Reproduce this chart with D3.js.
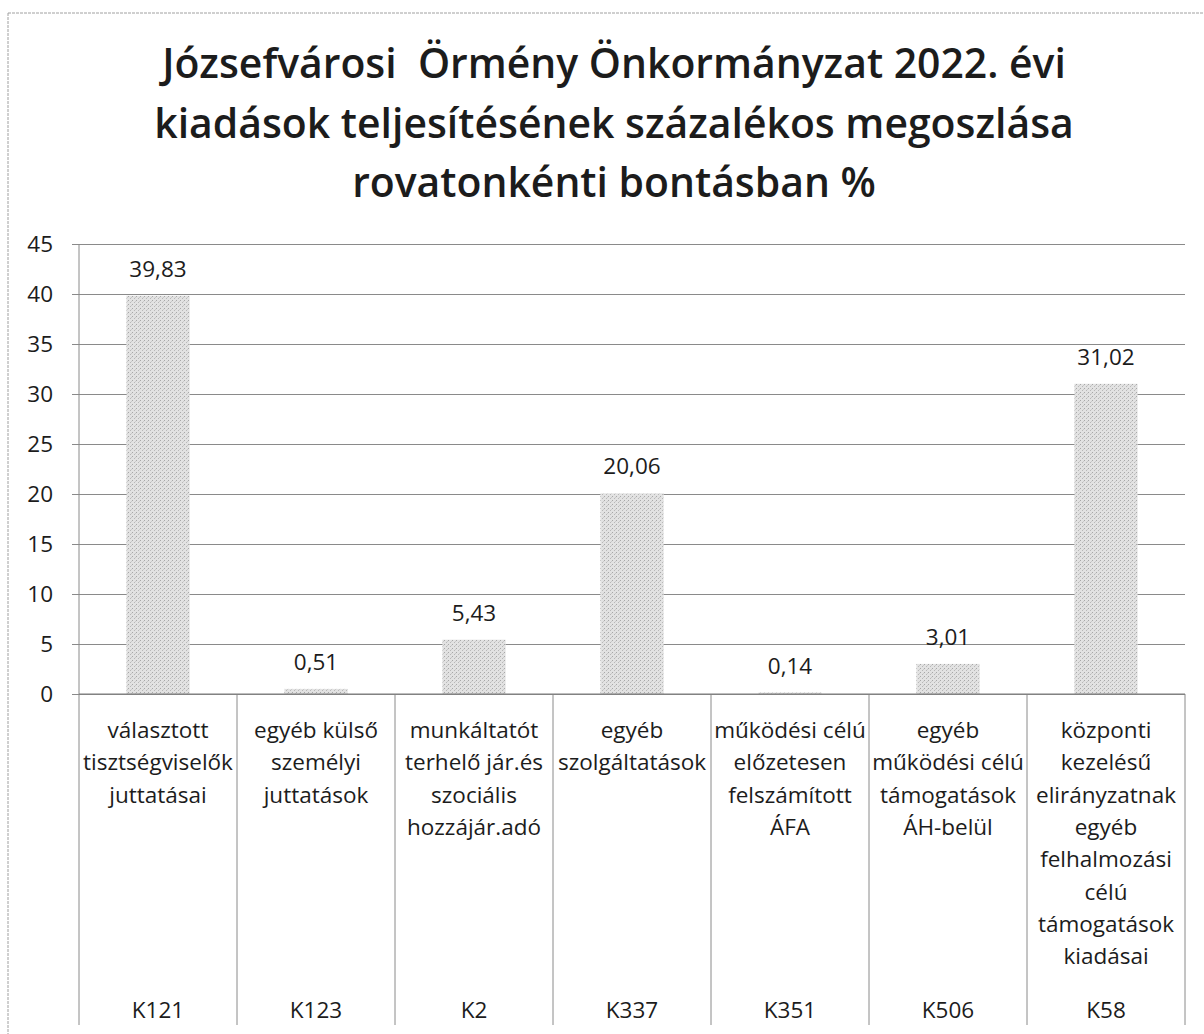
<!DOCTYPE html>
<html>
<head>
<meta charset="utf-8">
<script src="https://cdn.jsdelivr.net/npm/d3@7"></script>
<style>
  body { margin: 0; background: #fff; }
  text { font-family: "Open Sans", Lato, sans-serif; fill: #1c1c1c; }
</style>
</head>
<body>
<script>
// chart data
const codes = ["K121", "K123", "K2", "K337", "K351", "K506", "K58"];
const labels = [
  ["választott", "tisztségviselők", "juttatásai"],
  ["egyéb külső", "személyi", "juttatások"],
  ["munkáltatót", "terhelő jár.és", "szociális", "hozzájár.adó"],
  ["egyéb", "szolgáltatások"],
  ["működési célú", "előzetesen", "felszámított", "ÁFA"],
  ["egyéb", "működési célú", "támogatások", "ÁH-belül"],
  ["központi", "kezelésű", "elirányzatnak", "egyéb", "felhalmozási", "célú", "támogatások", "kiadásai"]
];
const values = [39.83, 0.51, 5.43, 20.06, 0.14, 3.01, 31.02];
const yTicks = [0, 5, 10, 15, 20, 25, 30, 35, 40, 45];
const titleLines = [
  "Józsefvárosi  Örmény Önkormányzat 2022. évi",
  "kiadások teljesítésének százalékos megoszlása",
  "rovatonkénti bontásban %"
];

var show_chart = () => {
  const W = 1204, H = 1034;
  const left = 79, right = 1185, top = 244, bottom = 694, catBottom = 1025;
  const fs = "22.5px";

  const svg = d3.select("body").append("svg")
    .attr("width", W).attr("height", H);

  // bar stipple pattern
  const pat = svg.append("defs").append("pattern")
    .attr("id", "stipple").attr("width", 4).attr("height", 4)
    .attr("patternUnits", "userSpaceOnUse");
  pat.append("rect").attr("width", 4).attr("height", 4).attr("fill", "#e2e2e2");
  pat.append("rect").attr("x", 0).attr("y", 0).attr("width", 1).attr("height", 1).attr("fill", "#a8a8a8");
  pat.append("rect").attr("x", 2).attr("y", 2).attr("width", 1).attr("height", 1).attr("fill", "#b8b8b8");
  pat.append("rect").attr("x", 3).attr("y", 1).attr("width", 1).attr("height", 1).attr("fill", "#cacaca");

  // outer chart border (top + left visible)
  svg.append("line").attr("x1", 8).attr("x2", W).attr("y1", 13).attr("y2", 13)
    .attr("stroke", "#a0a0a0").attr("stroke-dasharray", "3,1");
  svg.append("line").attr("x1", 8).attr("x2", 8).attr("y1", 13).attr("y2", H)
    .attr("stroke", "#a0a0a0").attr("stroke-dasharray", "3,1");

  // title
  const title = svg.append("text")
    .attr("x", 614)
    .attr("text-anchor", "middle")
    .style("font-weight", 600)
    .style("font-size", "38px")
    .style("white-space", "pre");
  const tsp = title.selectAll("tspan")
    .data(titleLines)
    .join("tspan")
      .attr("x", 614)
      .attr("y", (d, i) => 78 + i * 59.5)
      .text(d => d);
  // fit second line to the width seen in the picture
  const w2 = tsp.nodes()[1].getComputedTextLength();
  title.style("font-size", (38 * 920 / w2) + "px");

  // scales
  const xCat = d3.scaleBand().domain(codes).range([left, right]);
  const x = d3.scaleBand().domain(codes).range([left, right])
    .paddingInner(0.6).paddingOuter(0.3);
  const y = d3.scaleLinear().domain([0, 45]).range([bottom, top]);

  // gridlines + y labels
  const yAxis = svg.append("g")
    .attr("transform", `translate(${left},0)`)
    .call(d3.axisLeft(y).tickValues(yTicks).tickSize(-(right - left)).tickPadding(26).tickFormat(d3.format("d")));
  yAxis.select(".domain").remove();
  yAxis.selectAll(".tick line")
    .attr("x1", -7)
    .attr("stroke", "#8a8a8a");
  yAxis.selectAll(".tick text")
    .style("font-size", fs)
    .attr("fill", "#1c1c1c");

  // bars
  svg.append("g").selectAll("rect")
    .data(values)
    .join("rect")
      .attr("x", (d, i) => x(codes[i]))
      .attr("y", d => y(d))
      .attr("width", x.bandwidth())
      .attr("height", d => y(0) - y(d))
      .attr("fill", "url(#stipple)");

  // value labels
  const fmt = d3.formatLocale({decimal: ",", thousands: " ", grouping: [3], currency: ["", ""]}).format(".2f");
  svg.append("g").selectAll("text")
    .data(values)
    .join("text")
      .attr("x", (d, i) => x(codes[i]) + x.bandwidth() / 2)
      .attr("y", d => y(d) - 19)
      .attr("text-anchor", "middle")
      .style("font-size", fs)
      .text(d => fmt(d));

  // vertical axis line and category dividers
  svg.append("line")
    .attr("x1", left).attr("x2", left).attr("y1", top).attr("y2", catBottom)
    .attr("stroke", "#8a8a8a");
  svg.append("g").selectAll("line")
    .data(codes)
    .join("line")
      .attr("x1", d => xCat(d) + xCat.bandwidth())
      .attr("x2", d => xCat(d) + xCat.bandwidth())
      .attr("y1", bottom).attr("y2", catBottom)
      .attr("stroke", "#8a8a8a");
  svg.append("line")
    .attr("x1", left).attr("x2", right).attr("y1", bottom).attr("y2", bottom)
    .attr("stroke", "#7a7a7a");

  // category labels
  const cat = svg.append("g").selectAll("g")
    .data(codes)
    .join("g")
      .attr("transform", d => `translate(${xCat(d) + xCat.bandwidth() / 2},0)`);
  cat.append("text")
    .attr("text-anchor", "middle")
    .style("font-size", fs)
    .selectAll("tspan")
    .data((d, i) => labels[i])
    .join("tspan")
      .attr("x", 0)
      .attr("y", (d, i) => 738 + i * 32.3)
      .text(d => d);
  cat.append("text")
    .attr("text-anchor", "middle")
    .attr("y", 1018)
    .style("font-size", fs)
    .text(d => d);
}
show_chart();
</script>
</body>
</html>
